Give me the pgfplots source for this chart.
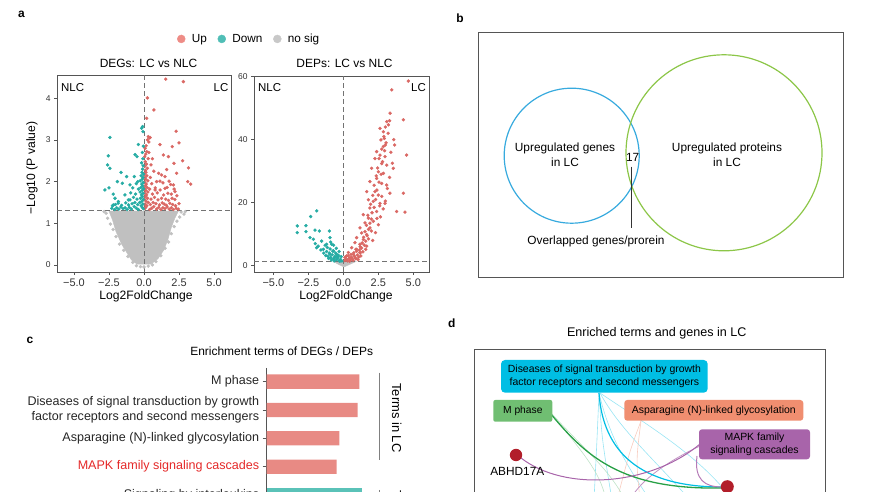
\documentclass[border=0pt]{standalone}
\usepackage{pgfplots}
\pgfplotsset{compat=1.18}
\usepackage{fontspec}
\setmainfont{Liberation Sans}
\definecolor{upcol}{RGB}{218,104,100}
\definecolor{upleg}{RGB}{238,140,134}
\definecolor{downcol}{RGB}{38,172,164}
\definecolor{downleg}{RGB}{80,190,182}
\definecolor{nscol}{RGB}{192,192,192}
\definecolor{nsleg}{RGB}{200,200,200}
\definecolor{boxgray}{RGB}{85,85,85}
\definecolor{dashgray}{RGB}{115,115,115}
\definecolor{venblue}{RGB}{55,170,222}
\definecolor{vengreen}{RGB}{140,198,72}
\definecolor{barred}{RGB}{232,138,132}
\definecolor{barteal}{RGB}{90,194,184}
\definecolor{mapkred}{RGB}{228,40,40}
\definecolor{dcyan}{RGB}{0,190,228}
\definecolor{dgreen}{RGB}{112,190,114}
\definecolor{dorange}{RGB}{240,142,112}
\definecolor{dpurple}{RGB}{168,100,170}
\definecolor{dnode}{RGB}{178,30,42}
\definecolor{lgreen}{RGB}{40,160,70}
\newcommand{\fs}[2]{\fontsize{#1}{#2}\selectfont}
\pgfplotsset{
  volc/.style={
    scale only axis, axis line style={boxgray, line width=0.9bp},
    tick align=outside, tick pos=left,
    major tick length=3bp, tick style={boxgray, line width=0.8bp},
    xtick={-5,-2.5,0,2.5,5}, xticklabels={−5.0,−2.5,0.0,2.5,5.0},
    xticklabel style={font=\fs{11}{13}, text=black!80},
    yticklabel style={font=\fs{8.5}{10}, text=black!80},
    /pgf/number format/assume math mode=true,
  },
  upm/.style={only marks, mark=*, mark size=1.5bp, color=upcol, mark options={draw=none, fill=upcol}, forget plot},
  dnm/.style={only marks, mark=*, mark size=1.5bp, color=downcol, mark options={draw=none, fill=downcol}, forget plot},
  nsm/.style={only marks, mark=*, mark size=1.5bp, color=nscol, mark options={draw=none, fill=nscol}, forget plot},
}
\begin{document}
\begin{tikzpicture}[x=1bp,y=1bp]
\useasboundingbox (0,0) rectangle (870,492);
\clip (0,0) rectangle (870,492);
% ---------------- left volcano ----------------
\begin{axis}[volc, at={(57bp,220bp)}, anchor=south west, width=174bp, height=197bp,
  xmin=-6.21, xmax=6.21, ymin=-0.17, ymax=4.56, ytick={0,1,2,3,4},
  legend style={at={(0.69,1.183)}, anchor=west, draw=none, fill=none, font=\fs{11.8}{14},
    inner sep=0pt, legend columns=3, /tikz/every even column/.append style={column sep=9bp}},
  legend image code/.code={\path[draw=none, fill=none] (-0.02cm,0) -- (0.42cm,0); \draw[#1, mark size=4bp] plot coordinates {(0.12cm,0cm)};},
  legend cell align=left]
\addlegendimage{only marks, mark=*, color=upleg}
\addlegendentry{Up}
\addlegendimage{only marks, mark=*, color=downleg}
\addlegendentry{Down}
\addlegendimage{only marks, mark=*, color=nsleg}
\addlegendentry{no sig}
\addplot[fill=nscol, draw=nscol, forget plot] coordinates {(-0.5,0.02)(0.5,0.02)(1.0,0.15)(1.4,0.35)(1.7,0.6)(1.95,0.9)(2.2,1.12)(2.45,1.29)(-2.5,1.29)(-2.25,1.08)(-2.0,0.8)(-1.6,0.5)(-1.2,0.28)(-0.9,0.12)(-0.5,0.02)};
\addplot[nsm] coordinates {(2.65,1.27)(2.85,1.22)(2.55,1.15)(2.35,1.05)(2.15,0.92)(1.95,0.75)(1.75,0.55)(1.5,0.4)(1.2,0.22)(0.85,0.08)(0.6,0.0)(-2.7,1.24)(-2.6,1.12)(-2.4,0.98)(-2.2,0.85)(-2.0,0.68)(-1.75,0.5)(-1.45,0.35)(-1.15,0.2)(-0.8,0.06)(-0.55,-0.02)(0.0,-0.05)(0.3,-0.03)(-0.25,-0.04)(2.95,1.28)(-2.85,1.28)(1.8,1.2)(2.05,1.25)};
\addplot[upm] coordinates {(1.55,4.46)(2.81,4.40)(0.24,4.01)(0.71,3.72)(0.19,3.52)(2.29,3.21)(0.31,3.08)(0.43,3.06)(1.14,2.89)(2.02,2.84)(2.5,2.93)(1.38,2.64)(1.74,2.60)(2.14,2.44)(2.76,2.5)(3.17,2.33)(1.62,2.29)(1.26,2.16)(2.33,2.20)(3.12,2.0)(3.33,1.94)(1.79,2.01)(2.1,1.92)(1.14,2.01)(0.79,1.80)(1.5,1.84)(2.21,1.76)
(0.05,1.35)(0.12,1.38)(0.2,1.42)(0.08,1.46)(0.3,1.5)(0.15,1.53)(0.04,1.57)(0.25,1.6)(0.1,1.64)(0.18,1.68)(0.06,1.72)(0.28,1.75)(0.13,1.79)(0.03,1.83)(0.22,1.86)(0.09,1.9)(0.16,1.94)(0.05,1.98)(0.27,2.02)(0.12,2.06)(0.07,2.1)(0.2,2.14)(0.04,2.18)(0.14,2.22)(0.1,2.27)(0.24,2.32)(0.06,2.37)(0.17,2.42)(0.09,2.48)(0.3,2.55)(0.05,2.6)(0.13,2.66)(0.2,2.72)(0.08,2.8)(0.15,2.86)(0.35,2.95)(0.25,3.0)(0.4,3.05)
(0.4,1.33)(0.55,1.36)(0.7,1.4)(0.9,1.34)(1.05,1.38)(1.2,1.33)(1.35,1.37)(1.5,1.35)(1.65,1.39)(1.8,1.34)(1.95,1.37)(2.1,1.33)(2.3,1.36)(2.45,1.34)(0.45,1.45)(0.65,1.5)(0.85,1.47)(1.1,1.44)(1.3,1.49)(1.45,1.46)(1.6,1.43)(1.85,1.48)(2.05,1.45)(2.25,1.42)(2.5,1.47)(0.5,1.58)(0.75,1.62)(1.0,1.56)(1.25,1.6)(1.55,1.58)(1.75,1.55)(2.0,1.6)(2.2,1.57)(0.6,1.7)(0.95,1.73)(1.4,1.68)(1.7,1.72)(1.95,1.7)(2.35,1.66)(0.4,1.82)(0.8,1.85)(1.15,1.8)(1.65,1.86)(2.15,1.82)(0.55,1.95)(0.9,2.0)(1.35,1.97)(1.9,1.93)(0.45,2.1)(0.7,2.25)(1.05,2.2)(1.5,2.12)(0.5,2.4)(0.35,2.7)(0.6,2.55)};
\addplot[dnm] coordinates {(-0.05,1.35)(-0.12,1.38)(-0.2,1.42)(-0.08,1.46)(-0.3,1.5)(-0.15,1.53)(-0.04,1.57)(-0.25,1.6)(-0.1,1.64)(-0.18,1.68)(-0.06,1.72)(-0.28,1.75)(-0.13,1.79)(-0.03,1.83)(-0.22,1.86)(-0.09,1.9)(-0.16,1.94)(-0.05,1.98)(-0.27,2.02)(-0.12,2.06)(-0.07,2.1)(-0.2,2.14)(-0.04,2.18)(-0.14,2.22)(-0.1,2.3)(-0.06,2.38)(-0.17,2.45)(-0.08,2.55)(-0.12,2.7)(-0.05,2.85)(-0.17,3.28)(-0.1,3.32)(-0.07,3.2)
(-0.4,1.33)(-0.55,1.36)(-0.7,1.4)(-0.9,1.34)(-1.05,1.38)(-1.2,1.33)(-1.35,1.37)(-1.5,1.35)(-1.65,1.39)(-1.8,1.34)(-1.95,1.37)(-2.1,1.33)(-2.3,1.36)(-0.45,1.45)(-0.65,1.5)(-0.85,1.47)(-1.1,1.44)(-1.3,1.49)(-1.6,1.43)(-1.85,1.48)(-2.05,1.45)(-2.25,1.42)(-0.5,1.58)(-0.75,1.62)(-1.0,1.56)(-1.36,1.68)(-1.12,1.56)(-2.07,1.6)(-1.83,1.52)(-2.19,1.44)(-0.6,1.7)(-0.95,1.73)(-0.4,1.82)(-0.8,1.85)(-0.55,1.95)(-1.0,1.92)(-0.69,2.12)(-0.45,2.0)
(-2.43,3.06)(-2.55,2.62)(-2.6,2.40)(-2.43,2.32)(-2.79,1.80)(-2.5,1.85)(-1.64,2.22)(-1.24,2.12)(-1.55,1.96)(-0.64,2.65)(-0.4,2.89)(-0.5,2.6)(-1.9,2.0)(-2.2,1.7)};
\draw[dashgray, line width=1bp, dash pattern=on 5bp off 3bp] (axis cs:-6.21,1.3) -- (axis cs:6.21,1.3);
\draw[dashgray, line width=1bp, dash pattern=on 5bp off 3bp] (axis cs:0,-0.17) -- (axis cs:0,4.56);
\end{axis}
% ---------------- right volcano ----------------
\begin{axis}[volc, at={(254bp,220bp)}, anchor=south west, width=175bp, height=196bp,
  xmin=-6.38, xmax=6.12, ymin=-2, ymax=60.2, ytick={0,20,40,60}]
\addplot[fill=nscol, draw=nscol, forget plot] coordinates {(-0.7,1.3)(0.9,1.3)(0.4,0.3)(0.05,-0.4)(-0.3,0.3)(-0.7,1.3)};
\addplot[upm] coordinates {(4.64,58.6)(3.46,55.8)(4.29,46.3)(3.34,48.4)(3.1,45.7)(3.22,44.7)(2.62,43.6)(2.86,42.5)(2.93,40.4)(2.69,39.9)(3.0,38.3)(2.86,37.8)(3.67,38.3)(2.38,36.2)(2.62,35.1)(2.98,34.6)(4.52,35.1)(2.26,34.0)(2.74,32.4)(3.1,31.9)(2.02,30.9)(2.5,29.8)(2.86,29.3)(3.57,30.9)(2.38,27.7)(1.9,26.7)(2.74,26.1)(3.1,25.6)(1.67,23.5)(2.26,23.5)(2.5,22.4)(3.33,23.0)(4.29,23.0)(1.79,20.9)(2.14,20.4)(2.62,19.8)(2.98,19.8)(3.81,17.2)(4.4,17.0)(1.9,18.3)(2.38,17.2)(1.43,16.2)(1.79,15.1)(2.14,14.1)(1.55,13.6)(1.19,12.0)(1.9,12.0)(1.31,10.4)(1.67,9.9)(0.95,8.9)(1.43,8.3)(0.83,7.3)(1.19,6.8)(0.6,5.7)(0.95,5.2)(0.36,4.2)(0.71,3.6)(0.24,3.1)(1.19,4.2)(0.12,2.6)(1.67,6.2)(0.48,2.6)
(0.1,1.6)(0.2,2.0)(0.3,1.5)(0.4,2.3)(0.5,1.8)(0.6,2.6)(0.7,1.7)(0.8,3.0)(0.9,2.2)(1.0,3.4)(1.1,2.7)(1.2,4.0)(0.15,2.8)(0.35,3.2)(0.55,3.6)(0.75,4.1)(0.95,4.6)(1.15,5.0)(1.3,5.6)(0.45,1.4)(0.65,2.1)(0.85,2.5)(1.05,1.9)(1.25,3.1)(1.4,4.4)(1.5,6.5)(1.35,7.2)(1.6,7.8)(1.45,9.0)(1.7,9.5)(1.55,10.8)(1.8,11.5)(1.65,12.8)(1.9,13.5)(2.0,14.8)(1.75,16.0)(2.05,16.8)(2.2,18.5)(1.95,19.5)(2.3,21.0)(2.1,22.3)(2.4,24.0)(2.2,25.5)(2.55,26.5)(2.35,28.5)(2.7,29.0)(2.45,31.0)(2.8,33.0)(2.55,34.0)(2.95,36.5)(2.75,37.0)(3.05,39.0)(2.9,41.0)(3.2,42.0)(3.0,44.0)(3.3,46.0)(2.1,8.0)(2.3,10.5)(2.5,13.0)(2.65,15.5)(2.85,18.0)(3.0,20.5)(3.15,24.5)(3.3,28.0)(3.5,32.5)(1.2,6.0)(0.9,5.2)(1.6,5.2)(1.8,8.5)(2.0,11.0)(2.4,15.0)(2.6,19.0)(2.75,22.0)(3.4,36.0)(3.6,40.0)};
\addplot[dnm] coordinates {(-1.9,17.4)(-2.33,15.6)(-3.29,12.6)(-2.67,12.7)(-3.29,10.5)(-2.67,10.8)(-2.02,11.3)(-1.71,11.0)(-1.0,11.0)(-2.38,8.9)(-2.14,8.4)(-1.55,7.8)(-0.95,8.9)(-1.9,5.7)(-1.19,6.8)(-0.83,6.8)(-1.43,5.2)(-0.71,4.7)(-0.48,3.6)(-0.95,3.6)(-0.6,2.6)(-0.36,2.8)
(-0.1,1.5)(-0.2,2.0)(-0.3,1.6)(-0.4,2.4)(-0.5,1.9)(-0.6,3.0)(-0.7,2.2)(-0.8,3.5)(-0.9,2.6)(-1.0,4.0)(-1.1,3.0)(-1.2,4.5)(-0.15,2.9)(-0.35,3.3)(-0.55,4.0)(-0.75,4.6)(-0.95,5.3)(-1.15,5.8)(-1.3,6.5)(-0.25,1.4)(-0.45,2.8)(-0.65,1.5)(-0.85,1.8)(-1.05,2.3)(-1.25,3.2)(-1.4,4.0)(-1.6,5.0)(-1.8,6.2)(-2.0,7.0)(-0.3,4.5)(-0.5,5.5)(-0.7,6.5)(-0.9,7.5)};
\draw[dashgray, line width=1bp, dash pattern=on 5bp off 3bp] (axis cs:-6.38,1.3) -- (axis cs:6.12,1.3);
\draw[dashgray, line width=1bp, dash pattern=on 5bp off 3bp] (axis cs:0,-2) -- (axis cs:0,60.2);
\end{axis}
% ---------------- bar chart (c) ----------------
\begin{axis}[at={(266.7bp,-31.4bp)}, anchor=south west, scale only axis, width=120bp, height=155.4bp,
  xmin=0, xmax=6, ymin=-0.48, ymax=5, y dir=reverse,
  axis x line=none, axis y line*=left, axis line style={-, boxgray, line width=0.9bp},
  tick align=outside, major tick length=4bp, ytick style={boxgray, line width=0.8bp},
  ytick={0,1,2,3,4},
  yticklabels={M phase,{Diseases of signal transduction by growth\\factor receptors and second messengers},Asparagine (N)-linked glycosylation,\textcolor{mapkred}{MAPK family signaling cascades},Signaling by interleukins},
  yticklabel style={align=right, font=\fs{12.6}{14.7}, text=black!85}]
\addplot[xbar, bar shift=0pt, bar width=14.3bp, fill=barred, draw=none] coordinates {(4.63,0) (4.55,1) (3.63,2) (3.5,3)};
\addplot[xbar, bar shift=0pt, bar width=14.3bp, fill=barteal, draw=none] coordinates {(4.78,4)};
\end{axis}
% ---------------- texts and diagrams ----------------
\begin{scope}[shift={(0,492)}, yscale=-1]
% panel a texts
\node[font=\bfseries\fs{12}{14}] at (21.5,14.5) {a};
\node[font=\fs{12}{14}] at (148.5,63) {DEGs: LC vs NLC};
\node[font=\fs{12}{14}] at (344.5,63) {DEPs: LC vs NLC};
\node[font=\fs{11.5}{14}, anchor=west, inner sep=0pt] at (61,87.5) {NLC};
\node[font=\fs{11.5}{14}, anchor=east, inner sep=0pt] at (228.5,87.5) {LC};
\node[font=\fs{11.5}{14}, anchor=west, inner sep=0pt] at (258,87.5) {NLC};
\node[font=\fs{11.5}{14}, anchor=east, inner sep=0pt] at (426,87.5) {LC};
\node[font=\fs{12.2}{14}, rotate=90] at (32,168) {−Log10 (P value)};
\node[font=\fs{12.2}{14}] at (146,296) {Log2FoldChange};
\node[font=\fs{12.2}{14}] at (346,296) {Log2FoldChange};
% panel b
\node[font=\bfseries\fs{12}{14}] at (460,18) {b};
\draw[boxgray, line width=1bp] (478,33) rectangle (843,278);
\draw[venblue, line width=1.2bp] (571.7,155.7) circle (67.5);
\draw[vengreen, line width=1.2bp] (724,152.8) circle (98);
\node[font=\fs{11.9}{15}, align=center] at (565,155) {Upregulated genes\\in LC};
\node[font=\fs{11.9}{15}, align=center] at (727,155) {Upregulated proteins\\in LC};
\node[font=\fs{11.9}{13}] at (632.7,157) {17};
\draw[black!80, line width=1.1bp] (631.7,166.7) -- (631.7,228.3);
\node[font=\fs{11.9}{13}] at (596,241.7) {Overlapped genes/prorein};
% panel c
\node[font=\bfseries\fs{12}{14}] at (30,340) {c};
\node[font=\fs{12}{14}] at (281.7,351.7) {Enrichment terms of DEGs / DEPs};
\draw[gray, line width=1bp] (379,372.7) -- (379,460);
\node[font=\fs{13}{15}, rotate=-90] at (396.7,418) {Terms in LC};
\draw[gray, line width=1bp] (379,490) -- (379,560);
\node[font=\fs{13}{15}, rotate=-90, anchor=west] at (396.7,487) {Terms in NLC};
% panel d
\node[font=\bfseries\fs{12}{14}] at (451.7,323.3) {d};
\node[font=\fs{12.6}{14}] at (656.7,333.3) {Enriched terms and genes in LC};
\draw[boxgray, line width=1bp] (474.3,349.3) rectangle (825,560);
% faint curves
\draw[dcyan!40, line width=0.6bp] (599,393) .. controls (602,440) .. (612,500);
\draw[dcyan!40, line width=0.6bp] (599,393) .. controls (610,440) and (630,470) .. (650,500);
\draw[dcyan!40, line width=0.6bp] (600,393) .. controls (620,430) and (655,460) .. (690,500);
\draw[dcyan!40, line width=0.6bp] (599,393) .. controls (597,440) .. (594,500);
\draw[dcyan!40, line width=0.6bp] (600,393) .. controls (640,420) and (690,450) .. (722,487);
\draw[dorange!45, line width=0.6bp] (641,421) .. controls (630,450) .. (617,500);
\draw[dorange!45, line width=0.6bp] (641,421) .. controls (636,460) .. (640,500);
\draw[lgreen!30, line width=0.6bp] (552,414) .. controls (580,450) and (600,470) .. (606,500);
\draw[lgreen!30, line width=0.6bp] (552,414) .. controls (585,450) and (610,470) .. (625,500);
\draw[dpurple!70, line width=0.8bp] (700,446) .. controls (670,460) and (640,480) .. (630,500);
% main curves
\draw[dcyan, line width=1.2bp] (599,393) .. controls (603,452) and (640,487) .. (722,487);
\draw[lgreen, line width=1.3bp] (550,413) .. controls (585,455) and (620,490) .. (722,488);
\draw[dpurple, line width=1bp] (521,458) .. controls (565,492) and (650,486) .. (700,444);
\draw[dpurple!85, line width=1bp] (697,456) .. controls (694,480) and (705,487) .. (722,487);
% boxes
\fill[dcyan, rounded corners=4bp] (501,360) rectangle (707.7,392.7);
\node[font=\fs{10.5}{12.5}, align=center] at (604.4,376.4) {Diseases of signal transduction by growth\\factor receptors and second messengers};
\fill[dgreen, rounded corners=2bp] (493.3,400) rectangle (552.3,421.7);
\node[font=\fs{10.3}{12}] at (522.8,410.9) {M phase};
\fill[dorange, rounded corners=3bp] (624.3,400) rectangle (803.3,420.7);
\node[font=\fs{10.5}{12}] at (713.8,410.4) {Asparagine (N)-linked glycosylation};
\fill[dpurple, rounded corners=3bp] (699,429.3) rectangle (810,459.3);
\node[font=\fs{10.5}{13}, align=center] at (754.5,444.3) {MAPK family\\signaling cascades};
\fill[dnode] (516,455) circle (6.2);
\fill[dnode] (727.3,486.7) circle (6.5);
\node[font=\fs{11.9}{13}] at (517.3,471.7) {ABHD17A};
\end{scope}
\end{tikzpicture}
\end{document}
